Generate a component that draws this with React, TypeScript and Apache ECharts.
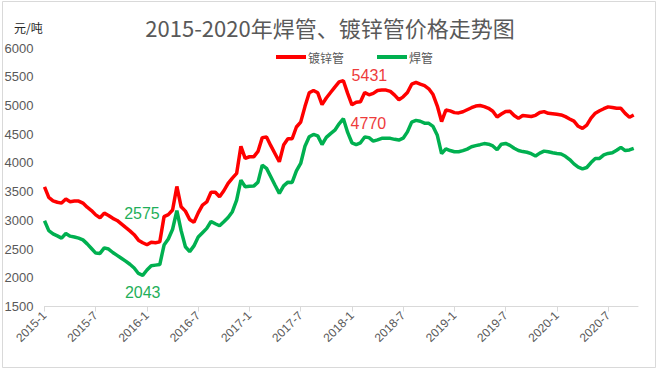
import React, { useEffect, useRef } from "react";
import * as echarts from "echarts";

// half-month sample dates: 2015-1-1 ... 2020-10-16
const categories: string[] = [];
for (let i = 0; i < 140; i++) {
  const y = 2015 + Math.floor(i / 24);
  const m = Math.floor((i % 24) / 2) + 1;
  categories.push(`${y}-${m}-${i % 2 === 0 ? 1 : 16}`);
}

const seriesNames = ["镀锌管", "焊管"];

// 镀锌管 (galvanized pipe), 元/吨
const galvanized: (number | null)[] = [
  3584, 3400, 3340, 3315, 3300, 3370, 3323, 3335, 3335, 3300,
  3228, 3170, 3095, 3044, 3125, 3085, 3035, 2998, 2937, 2876,
  2817, 2750, 2655, 2610, 2575, 2618, 2610, 2625, 3065, 3100,
  3180, 3590, 3235, 3160, 3015, 2965, 3130, 3265, 3320, 3490,
  3490, 3410, 3515, 3645, 3735, 3817, 4290, 4080, 4107, 4105,
  4200, 4440, 4450, 4300, 4160, 4020, 4310, 4420, 4420, 4625,
  4710, 4980, 5220, 5260, 5220, 5015, 5130, 5225, 5320, 5410,
  5431, 5210, 5010, 5055, 5065, 5225, 5185, 5210, 5260, 5268,
  5268, 5245, 5180, 5100, 5150, 5225, 5370, 5400, 5370, 5345,
  5290, 5190, 4990, 4720, 4920, 4905, 4875, 4870, 4890, 4925,
  4960, 4990, 5000, 4980, 4950, 4900, 4800, 4850, 4895, 4900,
  4825, 4775, 4825, 4818, 4808, 4828, 4877, 4893, 4863, 4855,
  4846, 4835, 4805, 4765, 4727, 4637, 4601, 4658, 4780, 4865,
  4908, 4943, 4975, 4965, 4951, 4950, 4862, 4795, 4833, null,
];

// 焊管 (welded pipe), 元/吨
const welded: (number | null)[] = [
  2992, 2820, 2765, 2730, 2690, 2770, 2725, 2710, 2690, 2660,
  2590, 2510, 2430, 2424, 2520, 2500, 2440, 2390, 2340, 2290,
  2235, 2170, 2075, 2043, 2135, 2210, 2220, 2230, 2570, 2675,
  2845, 3170, 2820, 2540, 2455, 2555, 2710, 2785, 2860, 2980,
  2940, 2905, 2975, 3050, 3150, 3352, 3700, 3585, 3595, 3596,
  3665, 3960, 3905, 3760, 3610, 3470, 3600, 3665, 3660, 3860,
  3990, 4290, 4455, 4495, 4470, 4320, 4445, 4510, 4570, 4680,
  4770, 4530, 4350, 4320, 4350, 4450, 4440, 4378, 4400, 4427,
  4427, 4427, 4410, 4397, 4430, 4540, 4710, 4740, 4725, 4692,
  4688, 4635, 4480, 4160, 4245, 4215, 4194, 4194, 4213, 4240,
  4280, 4300, 4317, 4336, 4325, 4295, 4228, 4326, 4339, 4305,
  4254, 4216, 4197, 4185, 4160, 4120, 4170, 4205, 4194, 4176,
  4162, 4154, 4115, 4057, 3983, 3927, 3896, 3920, 4006, 4078,
  4078, 4140, 4165, 4177, 4220, 4271, 4215, 4225, 4253, null,
];

const RED = "#FF0000";
const GREEN = "#00B050";
const LABEL_RED = "#EE3B3B";
const LABEL_GREEN = "#1FAF5A";
const TEXT = "#595959";
const CJK = '"Noto Sans CJK SC", "Liberation Sans", sans-serif';
const NUM = '"Liberation Sans", Arial, sans-serif';

export default function App() {
  const ref = useRef<HTMLDivElement>(null);
  useEffect(() => {
    document.body.style.margin = "0";
    if (!ref.current) return;
    const chart = echarts.init(ref.current, undefined, { renderer: "svg" });
    chart.setOption({
      animation: false,
      backgroundColor: "#ffffff",
      title: {
        text: "2015-2020年焊管、镀锌管价格走势图",
        left: "center",
        top: 11,
        textStyle: { fontSize: 22, fontWeight: "normal", color: TEXT, fontFamily: CJK },
      },
      graphic: [
        {
          type: "rect",
          shape: { x: 2.5, y: 1.5, width: 653, height: 366 },
          style: { fill: "none", stroke: "#d9d9d9", lineWidth: 1 },
          silent: true,
        },
        {
          type: "text",
          left: 14,
          top: 21,
          style: { text: "元/吨", fontSize: 12, fill: "#262626", fontFamily: CJK },
        },
      ],
      legend: {
        data: seriesNames,
        left: 271,
        top: 46,
        icon: "rect",
        itemWidth: 30,
        itemHeight: 4,
        itemGap: 33,
        textStyle: { fontSize: 12, color: TEXT, fontFamily: CJK, padding: [0, 0, 0, -3] },
      },
      grid: { left: 44.5, right: 22, top: 48, bottom: 66.5, containLabel: false },
      xAxis: {
        type: "category",
        data: categories,
        boundaryGap: false,
        axisLine: { lineStyle: { color: "#d9d9d9" } },
        axisTick: { interval: 11, length: 5, lineStyle: { color: "#d9d9d9" } },
        axisLabel: {
          interval: 11,
          rotate: 45,
          fontSize: 12,
          color: TEXT,
          fontFamily: NUM,
          margin: 7,
          formatter: (v: string) => v.split("-").slice(0, 2).join("-"),
        },
        splitLine: { show: false },
      },
      yAxis: {
        type: "value",
        min: 1500,
        max: 6000,
        interval: 500,
        axisLine: { show: false },
        axisTick: { show: false },
        splitLine: { show: false },
        axisLabel: {
          fontSize: 13,
          color: TEXT,
          fontFamily: NUM,
          margin: 11,
          formatter: (v: number) => String(v),
        },
      },
      series: [
        {
          name: seriesNames[0],
          type: "line",
          data: galvanized,
          showSymbol: false,
          symbol: "none",
          color: RED,
          lineStyle: { width: 3.5, color: RED },
          z: 3,
          markPoint: {
            symbol: "circle",
            symbolSize: 0,
            label: { show: true, position: "inside", fontSize: 16, fontFamily: NUM, formatter: "{c}" },
            data: [
              { coord: [categories[70], 5431], value: 5431, label: { offset: [26, -5], color: LABEL_RED } },
              { coord: [categories[24], 2575], value: 2575, label: { offset: [-5, -31], color: LABEL_GREEN } },
            ],
          },
        },
        {
          name: seriesNames[1],
          type: "line",
          data: welded,
          showSymbol: false,
          symbol: "none",
          color: GREEN,
          lineStyle: { width: 3.5, color: GREEN },
          z: 2,
          markPoint: {
            symbol: "circle",
            symbolSize: 0,
            label: { show: true, position: "inside", fontSize: 16, fontFamily: NUM, formatter: "{c}" },
            data: [
              { coord: [categories[70], 4770], value: 4770, label: { offset: [25, 5], color: LABEL_RED } },
              { coord: [categories[23], 2043], value: 2043, label: { offset: [0, 17], color: LABEL_GREEN } },
            ],
          },
        },
      ],
    });
    return () => chart.dispose();
  }, []);
  return <div ref={ref} style={{ width: 660, height: 373 }} />;
}
